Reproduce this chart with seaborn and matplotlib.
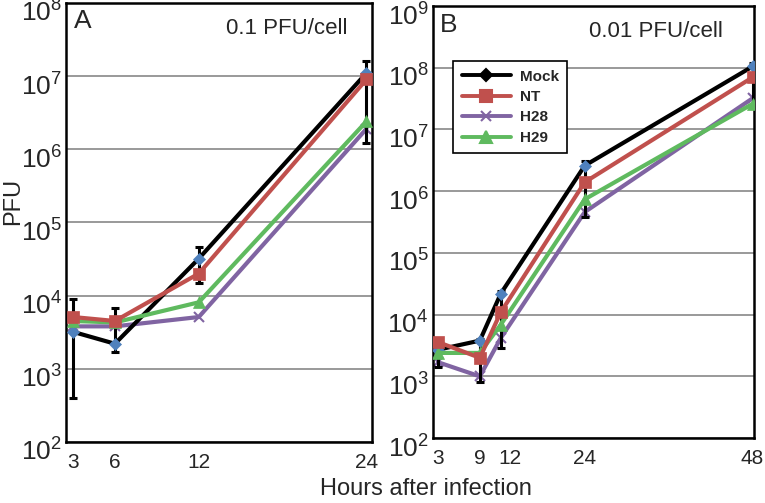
import numpy as np
import pandas as pd
import matplotlib
matplotlib.use("Agg")
import matplotlib.pyplot as plt
import matplotlib.transforms as mtransforms
from matplotlib.lines import Line2D
import seaborn as sns

sns.set_style("white")
plt.rcParams['font.family'] = ['Liberation Sans', 'DejaVu Sans']
plt.rcParams['mathtext.fontset'] = 'custom'
plt.rcParams['mathtext.rm'] = 'Liberation Sans'

# panel A: 0.1 PFU/cell
hours_a = [3, 6, 12, 24]
mock_a = [3.2e3, 2.2e3, 3.2e4, 1.1e7]
nt_a = [5.1e3, 4.5e3, 2.0e4, 9.0e6]
h28_a = [3.8e3, 3.8e3, 5.1e3, 1.9e6]
h29_a = [4.5e3, 4.3e3, 8.1e3, 2.4e6]
err_lo_a = [4.0e2, 1.7e3, 1.5e4, 1.2e6]
err_hi_a = [9.1e3, 6.8e3, 4.6e4, 1.6e7]

# panel B: 0.01 PFU/cell
hours_b = [3, 9, 12, 24, 48]
mock_b = [2.7e3, 3.8e3, 2.2e4, 2.6e6, 1.05e8]
nt_b = [3.6e3, 2.0e3, 1.1e4, 1.4e6, 7.0e7]
h28_b = [1.7e3, 1.0e3, 4.2e3, 4.6e5, 3.2e7]
h29_b = [2.4e3, 2.4e3, 6.9e3, 7.4e5, 2.6e7]
err_lo_b = [1.4e3, 8.2e2, 2.9e3, 3.8e5, 2.3e7]
err_hi_b = [3.0e3, 4.0e3, 2.4e4, 3.1e6, 1.2e8]

series = ['Mock', 'NT', 'H28', 'H29']
colors = {'Mock': 'black', 'NT': '#c0504d', 'H28': '#8064a2', 'H29': '#5fba5f'}
markers = {'Mock': 'D', 'NT': 's', 'H28': 'x', 'H29': '^'}
mfc = {'Mock': '#4f81bd', 'NT': '#c0504d', 'H28': '#8064a2', 'H29': '#5fba5f'}
msize = {'Mock': 6, 'NT': 8, 'H28': 7, 'H29': 8}
zorders = {'Mock': 3, 'NT': 4, 'H28': 2, 'H29': 3}


def draw_panel(ax, hours, vals, lo, hi, ymin, ymax, xlim):
    ax.set_yscale('log')
    for p in range(ymin, ymax + 1):
        ax.axhline(10.0 ** p, color='#999999', lw=1.4, zorder=0)
    mock = np.array(vals['Mock'])
    ax.errorbar(hours, mock, yerr=[mock - np.array(lo), np.array(hi) - mock],
                fmt='none', ecolor='black', elinewidth=2.2, capsize=3,
                capthick=2.2, zorder=2.5)
    for s in series:
        df = pd.DataFrame({'hours': hours, 'pfu': vals[s]})
        sns.lineplot(data=df, x='hours', y='pfu', ax=ax, color=colors[s],
                     lw=3.0, marker=markers[s], markersize=msize[s],
                     markerfacecolor=mfc[s], markeredgecolor=mfc[s],
                     markeredgewidth=1.5 if s == 'H28' else 0.5,
                     zorder=zorders[s], legend=False)
    ax.set_ylim(10.0 ** ymin, 10.0 ** ymax)
    ax.set_xlim(*xlim)
    ax.set_yticks([10.0 ** p for p in range(ymin, ymax + 1)])
    ax.set_yticklabels([r'$\mathregular{10^{%d}}$' % p for p in range(ymin, ymax + 1)])
    ax.minorticks_off()
    ax.set_xticks(hours)
    ax.set_xticklabels([str(h) for h in hours])
    ax.tick_params(axis='y', length=0, labelsize=19, pad=3)
    ax.tick_params(axis='x', length=0, labelsize=15, pad=8)
    # the reference puts the "10" below the gridline, exponent at the line
    shift = mtransforms.ScaledTranslation(0, -0.08, fig.dpi_scale_trans)
    for lab in ax.get_yticklabels():
        lab.set_transform(lab.get_transform() + shift)
    ax.set_xlabel('')
    ax.set_ylabel('')
    for sp in ax.spines.values():
        sp.set_color('black')
        sp.set_linewidth(1.8)


fig = plt.figure(figsize=(7.65, 5.03), dpi=100)
ax_a = fig.add_axes([0.0863, 0.1213, 0.400, 0.873])
ax_b = fig.add_axes([0.566, 0.129, 0.4196, 0.859])

draw_panel(ax_a, hours_a,
           {'Mock': mock_a, 'NT': nt_a, 'H28': h28_a, 'H29': h29_a},
           err_lo_a, err_hi_a, 2, 8, (2.5, 24.4))
draw_panel(ax_b, hours_b,
           {'Mock': mock_b, 'NT': nt_b, 'H28': h28_b, 'H29': h29_b},
           err_lo_b, err_hi_b, 2, 9, (2.3, 48.2))

# nudge the "12" label in panel B so it does not collide with "9"
lab12 = ax_b.get_xticklabels()[2]
lab12.set_transform(lab12.get_transform() +
                    mtransforms.ScaledTranslation(0.09, 0, fig.dpi_scale_trans))

ax_a.text(0.025, 0.985, 'A', transform=ax_a.transAxes, fontsize=19, va='top', ha='left')
ax_a.text(0.722, 0.965, '0.1 PFU/cell', transform=ax_a.transAxes, fontsize=16,
          va='top', ha='center')
ax_b.text(0.02, 0.985, 'B', transform=ax_b.transAxes, fontsize=19, va='top', ha='left')
ax_b.text(0.695, 0.965, '0.01 PFU/cell', transform=ax_b.transAxes, fontsize=16,
          va='top', ha='center')

handles = [Line2D([], [], color=colors[s], lw=2.8, marker=markers[s],
                  markersize=msize[s], markerfacecolor=colors[s],
                  markeredgecolor=colors[s], markeredgewidth=1.5)
           for s in series]
leg = ax_b.legend(handles, series, loc='upper left', bbox_to_anchor=(0.04, 0.89),
                  frameon=True, fancybox=False, edgecolor='black',
                  prop={'weight': 'bold', 'size': 11}, handlelength=3.2,
                  handletextpad=0.6, borderpad=0.55, labelspacing=0.42)
leg.get_frame().set_linewidth(1.2)
leg.get_frame().set_alpha(1)

fig.text(0.003, 0.60, 'PFU', rotation=90, fontsize=17, va='center', ha='left')
fig.text(0.557, 0.005, 'Hours after infection', fontsize=17, ha='center', va='bottom')

fig.savefig('out.png', dpi=100)
